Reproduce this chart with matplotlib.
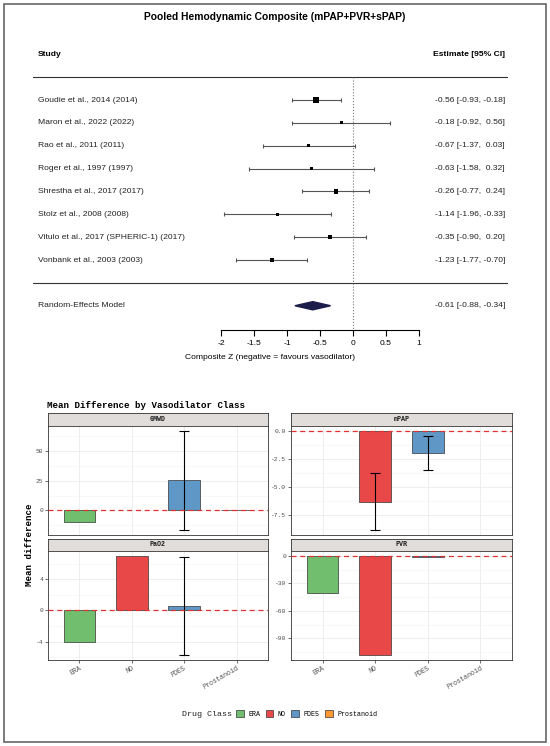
import numpy as np
import matplotlib.pyplot as plt
from matplotlib.patches import Rectangle, Polygon, Patch
from matplotlib.ticker import MultipleLocator, FormatStrFormatter
from matplotlib.transforms import blended_transform_factory

plt.rcParams['axes.unicode_minus'] = False

W, H = 550, 746

# forest plot data
studies = ['Goudie et al., 2014 (2014)', 'Maron et al., 2022 (2022)',
           'Rao et al., 2011 (2011)', 'Roger et al., 1997 (1997)',
           'Shrestha et al., 2017 (2017)', 'Stolz et al., 2008 (2008)',
           'Vitulo et al., 2017 (SPHERIC-1) (2017)', 'Vonbank et al., 2003 (2003)']
est = np.array([-0.56, -0.18, -0.67, -0.63, -0.26, -1.14, -0.35, -1.23])
lo = np.array([-0.93, -0.92, -1.37, -1.58, -0.77, -1.96, -0.90, -1.77])
hi = np.array([-0.18, 0.56, 0.03, 0.32, 0.24, -0.33, 0.20, -0.70])
re_est, re_lo, re_hi = -0.61, -0.88, -0.34

# bar chart data (per outcome, per drug class)
classes = ['ERA', 'NO', 'PDE5', 'Prostanoid']
class_colors = ['#71bf6e', '#e94849', '#5f98c6', '#ff9933']
outcomes = ['6MWD', 'mPAP', 'PaO2', 'PVR']
nan = np.nan
md_vals = {
    '6MWD': [-10.1, nan, 25.3, 0.3],
    'mPAP': [nan, -6.29, -1.97, nan],
    'PaO2': [-4.1, 6.98, 0.59, nan],
    'PVR': [-40.8, -108.4, -1.2, nan],
}
md_lo = {
    '6MWD': [nan, nan, -16.6, nan],
    'mPAP': [nan, -8.8, -3.47, nan],
    'PaO2': [nan, nan, -5.71, nan],
    'PVR': [nan, nan, nan, nan],
}
md_hi = {
    '6MWD': [nan, nan, 67.1, nan],
    'mPAP': [nan, -3.74, -0.47, nan],
    'PaO2': [nan, nan, 6.86, nan],
    'PVR': [nan, nan, nan, nan],
}
tick_step = {'6MWD': 25, 'mPAP': 2.5, 'PaO2': 4, 'PVR': 30}
tick_fmt = {'6MWD': '%d', 'mPAP': '%.1f', 'PaO2': '%d', 'PVR': '%d'}


def px_axes(fig, x0, y0, x1, y1, **kw):
    return fig.add_axes([x0 / W, 1 - y1 / H, (x1 - x0) / W, (y1 - y0) / H], **kw)


fig = plt.figure(figsize=(W / 100, H / 100), dpi=100)
fig.patches.append(Rectangle((4 / W, 4 / H), 542 / W, 738 / H, transform=fig.transFigure,
                             fill=False, edgecolor='#666666', lw=1.2))

# ---------- forest plot ----------
sans = 'Liberation Sans'
fs = 6.1
row_px = 22.86
top_px, bot_px = 40, 330
ax = px_axes(fig, 33, top_px, 508, bot_px)
ax.set_xlim(-2 - (221 - 33) / 66, 1 + (508 - 419) / 66)
ax.set_ylim((bot_px - 100) / row_px, (top_px - 100) / row_px)
for s in ['top', 'right', 'left']:
    ax.spines[s].set_visible(False)
ax.spines['bottom'].set_bounds(-2, 1)
ax.spines['bottom'].set_linewidth(0.8)
ax.set_yticks([])
ax.set_xticks(np.arange(-2, 1.01, 0.5))
ax.set_xticklabels(['-2', '-1.5', '-1', '-0.5', '0', '0.5', '1'], fontsize=fs, family=sans)
ax.tick_params(axis='x', length=4, width=0.8, pad=3.5)
ax.set_xlabel('Composite Z (negative = favours vasodilator)', fontsize=fs, family=sans, labelpad=5)

rows = np.arange(len(studies))
n = len(studies)
btr = blended_transform_factory(ax.transAxes, ax.transData)

ax.axhline(-1, color='#333333', lw=0.8)
ax.axhline(n, color='#333333', lw=0.8)
ax.plot([0, 0], [-1, (bot_px - 100) / row_px], ls=':', color='#777777', lw=0.8)

ax.text(0.0105, -2, 'Study', transform=btr, ha='left', va='center',
        fontsize=fs, family=sans, fontweight='bold')
ax.text(0.9937, -2, 'Estimate [95% CI]', transform=btr, ha='right', va='center',
        fontsize=fs, family=sans, fontweight='bold')

# square side grows with sqrt of inverse-variance weight
se = (hi - lo) / 3.92
w = 1 / se ** 2
ax.errorbar(est, rows, xerr=[est - lo, hi - est], fmt='none', ecolor='#555555',
            elinewidth=0.8, capsize=1.4, capthick=0.8)
ax.scatter(est, rows, marker='s', s=0.62 * w, color='black', zorder=3, linewidths=0)
for i in range(n):
    ax.text(0.0105, rows[i], studies[i], transform=btr, ha='left', va='center',
            fontsize=fs, family=sans, color='#222222')
    ax.text(0.9937, rows[i], f'{est[i]:.2f} [{lo[i]:.2f}, {hi[i]:5.2f}]', transform=btr,
            ha='right', va='center', fontsize=fs, family=sans, color='#222222')

re_row = n + 1
ax.add_patch(Polygon([[re_lo, re_row], [re_est, re_row - 0.18], [re_hi, re_row],
                      [re_est, re_row + 0.18]], closed=True, color='#1c1c4a', zorder=3))
ax.text(0.0105, re_row, 'Random-Effects Model', transform=btr, ha='left', va='center',
        fontsize=fs, family=sans, color='#222222')
ax.text(0.9937, re_row, f'{re_est:.2f} [{re_lo:.2f}, {re_hi:5.2f}]', transform=btr,
        ha='right', va='center', fontsize=fs, family=sans, color='#222222')

fig.text(275 / W, 1 - 17 / H, 'Pooled Hemodynamic Composite (mPAP+PVR+sPAP)',
         ha='center', va='center', fontsize=7.4, family=sans, fontweight='bold')

# ---------- faceted bar chart ----------
mono = 'Liberation Mono'
fig.text(47 / W, 1 - 405 / H, 'Mean Difference by Vasodilator Class', ha='left',
         va='center', fontsize=6.6, family=mono, fontweight='bold')

panel_x = [(48, 268), (291, 512)]
panel_y = [(413, 426, 535), (539, 551, 660)]
xpos = np.arange(len(classes))

for k, name in enumerate(outcomes):
    r, c = divmod(k, 2)
    x0, x1 = panel_x[c]
    s0, p0, p1 = panel_y[r]
    sax = px_axes(fig, x0, s0, x1, p0)
    sax.set_facecolor('#e0dddb')
    sax.set_xticks([])
    sax.set_yticks([])
    for sp in sax.spines.values():
        sp.set_color('#333333')
        sp.set_linewidth(0.6)
    sax.text(0.5, 0.5, name, ha='center', va='center', transform=sax.transAxes,
             fontsize=4.8, family=mono, fontweight='bold', color='#1a1a1a')

    pax = px_axes(fig, x0, p0, x1, p1)
    vals = np.array(md_vals[name])
    elo = np.array(md_lo[name])
    ehi = np.array(md_hi[name])
    allv = np.concatenate([vals, elo, ehi, [0]])
    allv = allv[~np.isnan(allv)]
    vmin, vmax = allv.min(), allv.max()
    pad = 0.05 * (vmax - vmin)
    pax.set_ylim(vmin - pad, vmax + pad)
    pax.set_xlim(-0.6, len(classes) - 0.4)

    ok = ~np.isnan(vals)
    pax.bar(xpos[ok], vals[ok], width=0.6, color=np.array(class_colors)[ok],
            edgecolor='#333333', linewidth=0.5, zorder=2)
    eok = ~np.isnan(elo)
    if eok.any():
        pax.errorbar(xpos[eok], vals[eok], yerr=[vals[eok] - elo[eok], ehi[eok] - vals[eok]],
                     fmt='none', ecolor='black', elinewidth=0.8, capsize=3.5, capthick=0.8,
                     zorder=3)
    pax.axhline(0, color='#e03030', ls=(0, (4, 3)), lw=0.9, zorder=4)

    pax.yaxis.set_major_locator(MultipleLocator(tick_step[name]))
    pax.yaxis.set_minor_locator(MultipleLocator(tick_step[name] / 2))
    pax.yaxis.set_major_formatter(FormatStrFormatter(tick_fmt[name]))
    pax.set_xticks(xpos)
    pax.grid(which='major', color='#ebebeb', lw=0.6, zorder=0)
    pax.grid(which='minor', axis='y', color='#f3f3f3', lw=0.4, zorder=0)
    pax.set_axisbelow(True)
    for sp in pax.spines.values():
        sp.set_color('#333333')
        sp.set_linewidth(0.6)
    pax.tick_params(axis='both', which='major', length=2, width=0.5, color='#333333',
                    labelsize=4.5, labelcolor='#4d4d4d', pad=1.5)
    pax.tick_params(which='minor', length=0)
    for lab in pax.get_yticklabels():
        lab.set_family(mono)
    if r == 1:
        pax.set_xticklabels(classes, rotation=30, ha='right', rotation_mode='anchor',
                            family=mono, fontsize=4.8)
    else:
        pax.tick_params(axis='x', length=0, labelbottom=False)

fig.text(30 / W, 1 - 545 / H, 'Mean difference', rotation=90, ha='center', va='center',
         fontsize=6.6, family=mono, fontweight='bold')

# legend
fig.text(232 / W, 1 - 714 / H, 'Drug Class', ha='right', va='center', fontsize=6.0,
         family=mono, color='#222222')
handles = [Patch(facecolor=col, edgecolor='#333333', linewidth=0.5) for col in class_colors]
fig.legend(handles, classes, loc='center left', bbox_to_anchor=(236 / W, 1 - 714 / H),
           ncol=4, frameon=False, handlelength=1.15, handleheight=1.15, handletextpad=0.7,
           columnspacing=0.8, borderaxespad=0, borderpad=0,
           prop={'family': mono, 'size': 4.8})

fig.savefig('out.png', dpi=100)
